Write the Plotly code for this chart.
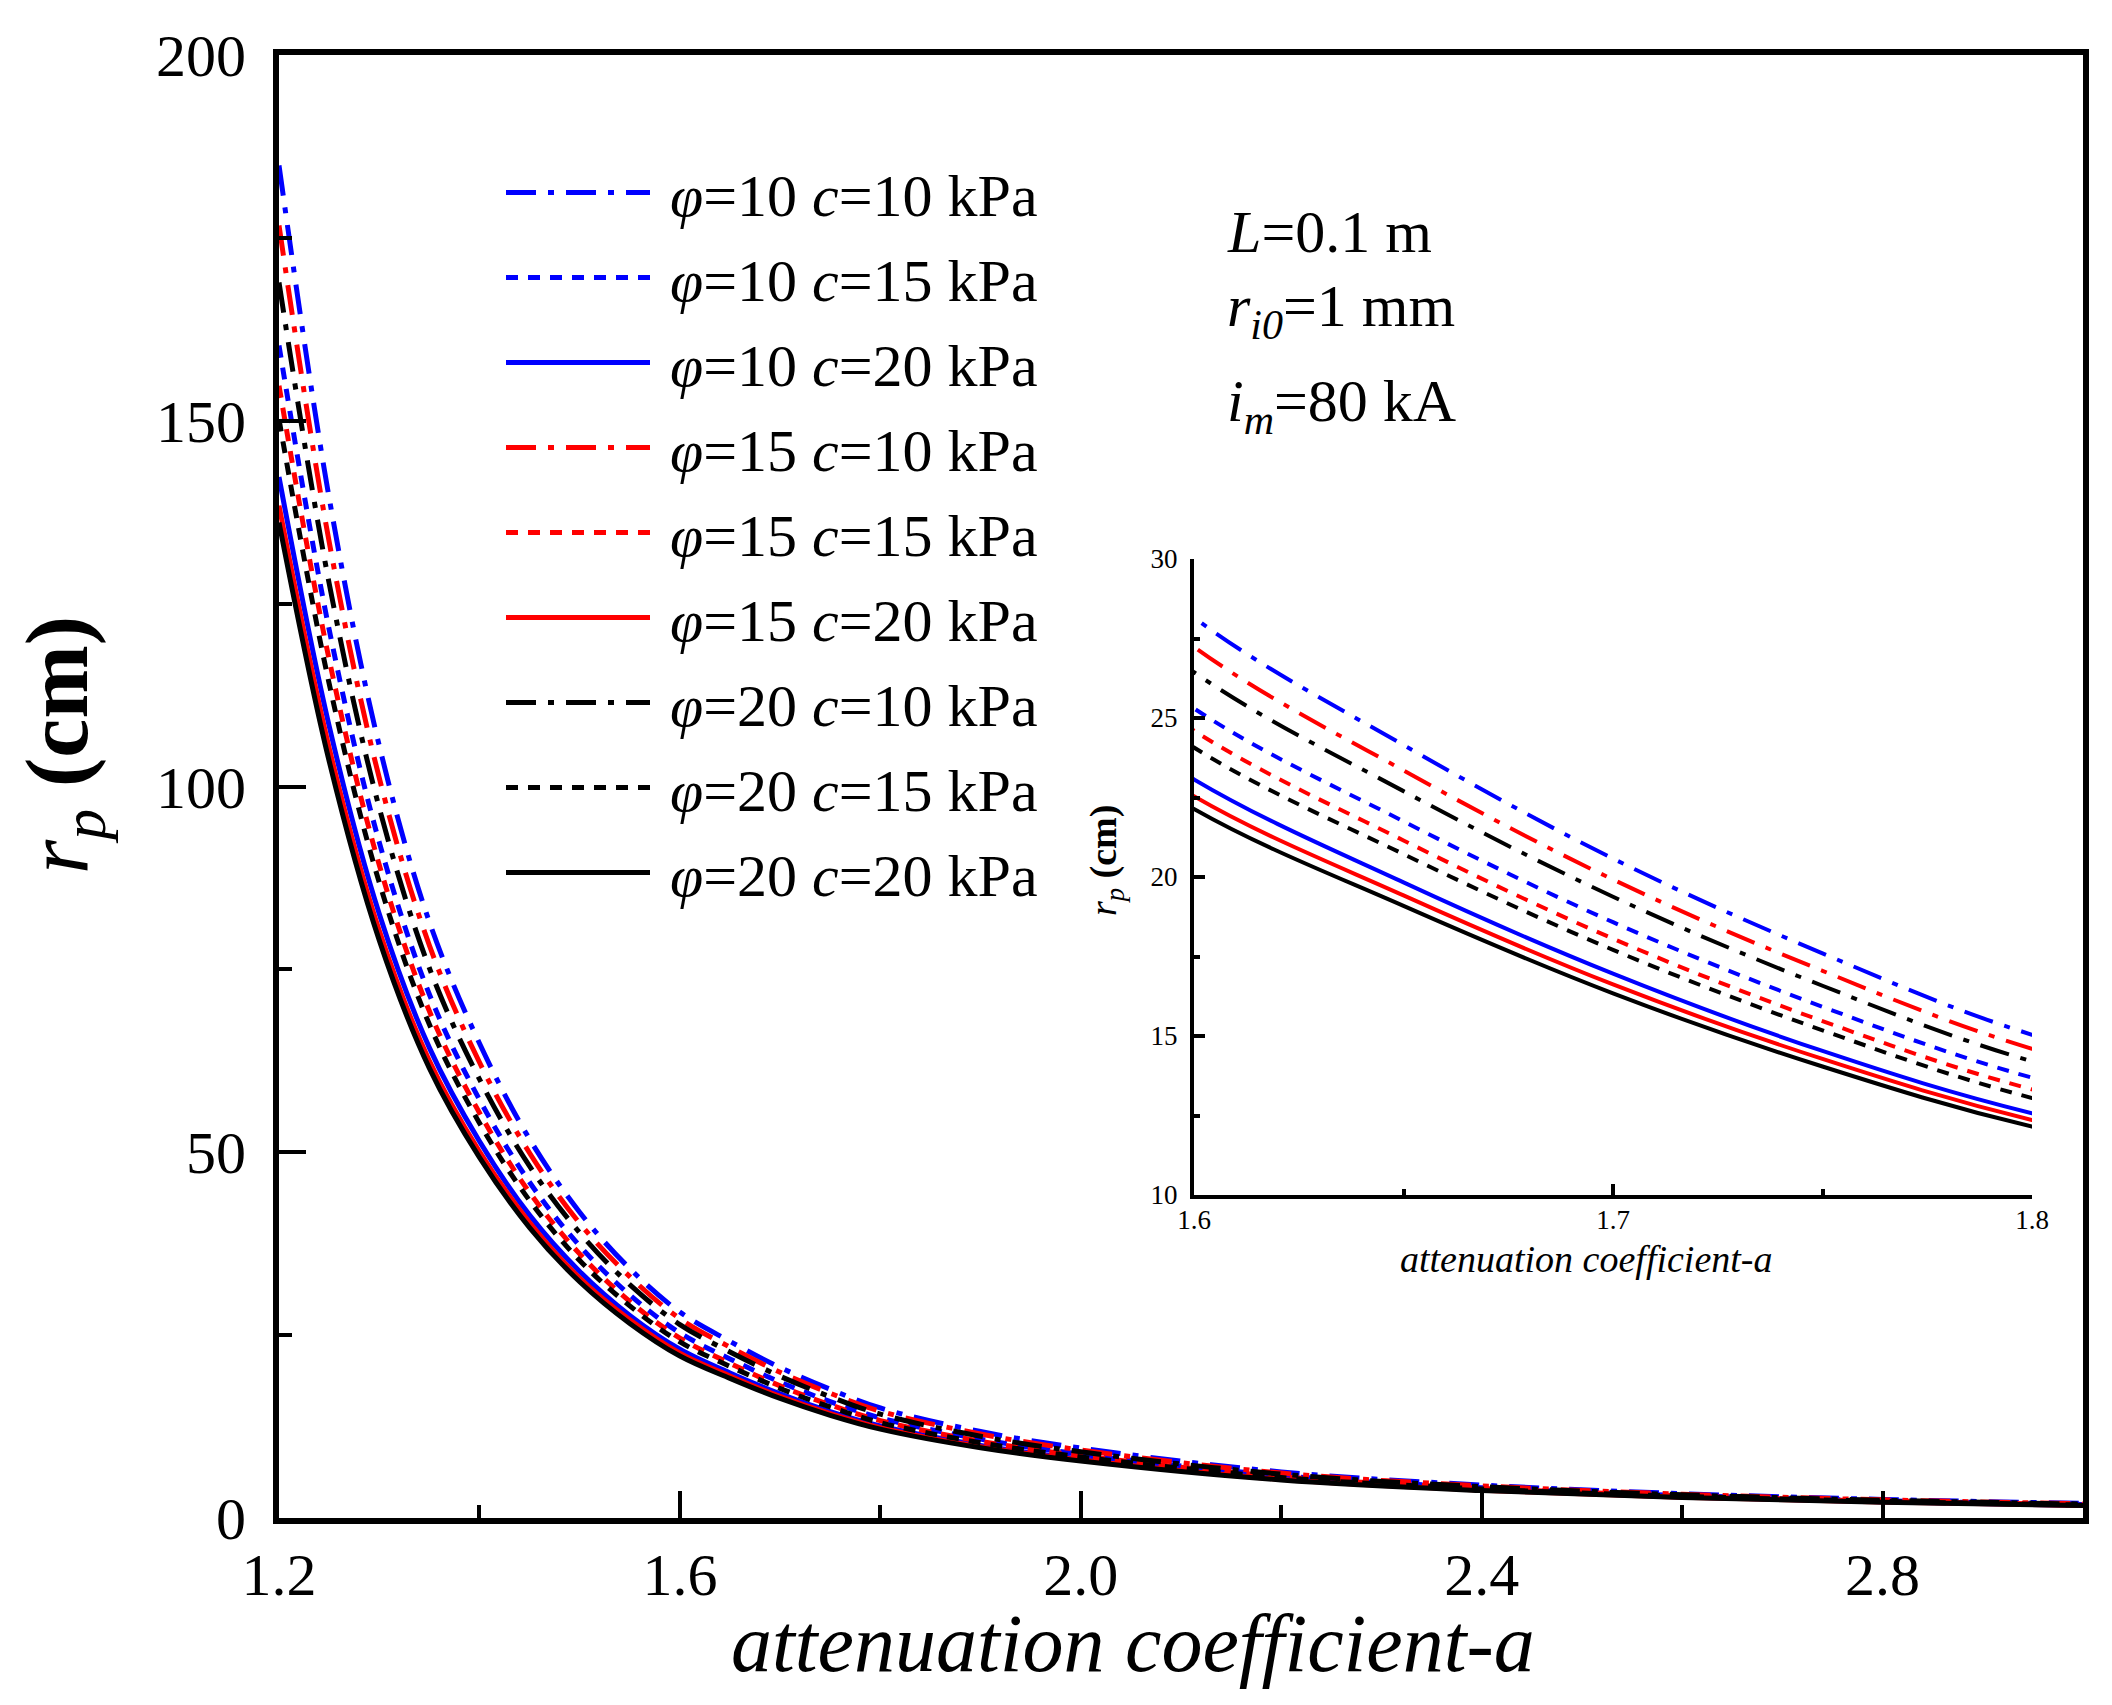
import plotly.graph_objects as go

# ---------------- data ----------------
a_vals = [1.2, 1.25, 1.3, 1.35, 1.4, 1.45, 1.5, 1.55, 1.6, 1.65, 1.7, 1.75, 1.8, 1.9,
          2.0, 2.2, 2.4, 2.6, 2.8, 3.0]

phi10_c10 = [184.9, 139.5, 105.6, 81.5, 64.9, 51.8, 41.8, 34.1, 28.16, 24.15, 20.58, 17.60, 15.04, 11.82,
             9.56, 6.30, 4.50, 3.33, 2.54, 1.99]
phi10_c15 = [160.3, 121.5, 92.4, 71.6, 57.2, 45.9, 37.2, 30.5, 25.30, 21.75, 18.58, 15.92, 13.69, 10.78,
             8.74, 5.79, 4.15, 3.08, 2.36, 1.85]
phi10_c20 = [142.3, 108.3, 82.6, 64.3, 51.5, 41.4, 33.7, 27.7, 23.07, 19.83, 16.96, 14.53, 12.57, 9.93,
             8.06, 5.36, 3.86, 2.88, 2.21, 1.74]
phi15_c10 = [176.7, 133.5, 101.2, 78.3, 62.3, 49.9, 40.3, 33.0, 27.24, 23.35, 19.92, 17.05, 14.60, 11.48,
             9.29, 6.14, 4.39, 3.25, 2.48, 1.94]
phi15_c15 = [154.8, 117.4, 89.3, 69.3, 55.4, 44.5, 36.1, 29.6, 24.60, 21.15, 18.06, 15.47, 13.32, 10.49,
             8.51, 5.65, 4.05, 3.02, 2.31, 1.82]
phi15_c20 = [138.4, 105.3, 80.3, 62.5, 50.1, 40.4, 32.8, 27.1, 22.54, 19.42, 16.62, 14.28, 12.36, 9.75,
             7.92, 5.28, 3.80, 2.84, 2.18, 1.72]
phi20_c10 = [168.9, 127.8, 97.1, 75.2, 60.0, 48.1, 39.0, 31.9, 26.44, 22.70, 19.38, 16.58, 14.20, 11.17,
             9.05, 5.99, 4.28, 3.18, 2.43, 1.91]
phi20_c15 = [150.2, 114.1, 86.9, 67.5, 54.0, 43.4, 35.2, 29.0, 24.07, 20.72, 17.71, 15.18, 13.05, 10.29,
             8.35, 5.54, 3.98, 2.97, 2.27, 1.79]
phi20_c20 = [136.1, 103.5, 79.0, 61.5, 49.3, 39.7, 32.3, 26.6, 22.14, 19.09, 16.34, 14.04, 12.15, 9.60,
             7.80, 5.20, 3.75, 2.80, 2.15, 1.70]

series_names = [
    "<i>φ</i>=10 <i>c</i>=10 kPa", "<i>φ</i>=10 <i>c</i>=15 kPa", "<i>φ</i>=10 <i>c</i>=20 kPa",
    "<i>φ</i>=15 <i>c</i>=10 kPa", "<i>φ</i>=15 <i>c</i>=15 kPa", "<i>φ</i>=15 <i>c</i>=20 kPa",
    "<i>φ</i>=20 <i>c</i>=10 kPa", "<i>φ</i>=20 <i>c</i>=15 kPa", "<i>φ</i>=20 <i>c</i>=20 kPa",
]
series_values = [phi10_c10, phi10_c15, phi10_c20,
                 phi15_c10, phi15_c15, phi15_c20,
                 phi20_c10, phi20_c15, phi20_c20]
series_colors = ["#0000FF"] * 3 + ["#FF0000"] * 3 + ["#000000"] * 3

x_ticks = [1.2, 1.6, 2.0, 2.4, 2.8]
x_tick_labels = ["1.2", "1.6", "2.0", "2.4", "2.8"]
y_ticks = [0, 50, 100, 150, 200]
inset_x_ticks = [1.6, 1.7, 1.8]
inset_y_ticks = [10, 15, 20, 25, 30]

x_title = "<i>attenuation coefficient-a</i>"
y_title = "<i>r</i><sub><i>p</i></sub> <b>(cm)</b>"
notes = ["<i>L</i>=0.1 m", "<i>r</i><sub><i>i0</i></sub>=1 mm", "<i>i</i><sub><i>m</i></sub>=80 kA"]

# ---------------- styles ----------------
DASHDOT = "30px,12px,6px,12px"
SHORTDASH = "12px,10px"
dash_cycle = [DASHDOT, SHORTDASH, "solid"] * 3
FONT = "Liberation Serif"

fig = go.Figure()

for i, (name, vals) in enumerate(zip(series_names, series_values)):
    fig.add_trace(go.Scatter(
        x=a_vals, y=vals, mode="lines", name="\u00a0" + name,
        line=dict(color=series_colors[i], width=5, dash=dash_cycle[i], shape="spline", smoothing=1.0),
        legendgroup=f"g{i}", xaxis="x", yaxis="y",
    ))

for i, (name, vals) in enumerate(zip(series_names, series_values)):
    fig.add_trace(go.Scatter(
        x=a_vals, y=vals, mode="lines", name=name, showlegend=False,
        line=dict(color=series_colors[i], width=4, dash=dash_cycle[i], shape="spline", smoothing=1.0),
        legendgroup=f"g{i}", xaxis="x2", yaxis="y2",
    ))

L, R, T, B = 271, 37, 47, 195
W, H = 2112, 1705
PW, PH = W - L - R, H - T - B


def px_x(xp):
    return (xp - L) / PW


def px_y(yp):
    return (H - B - yp) / PH


fig.update_layout(
    width=W, height=H,
    margin=dict(l=L, r=R, t=T, b=B),
    paper_bgcolor="white", plot_bgcolor="white",
    font=dict(family=FONT, color="black", size=60),
    xaxis=dict(
        range=[1.2, 3.0], tickvals=x_ticks, ticktext=x_tick_labels,
        ticks="inside", ticklen=27, tickwidth=4, tickcolor="black",
        minor=dict(dtick=0.2, ticks="inside", ticklen=13, tickwidth=4, tickcolor="black"),
        showline=True, linewidth=6, linecolor="black", mirror=True,
        showgrid=False, zeroline=False,
        tickfont=dict(family=FONT, size=60), ticklabelstandoff=-1,
    ),
    yaxis=dict(
        range=[0, 200], tickvals=y_ticks,
        ticks="inside", ticklen=27, tickwidth=4, tickcolor="black",
        minor=dict(dtick=25, ticks="inside", ticklen=13, tickwidth=4, tickcolor="black"),
        showline=True, linewidth=6, linecolor="black", mirror=True,
        showgrid=False, zeroline=False,
        tickfont=dict(family=FONT, size=60), ticklabelstandoff=15,
    ),
    xaxis2=dict(
        domain=[px_x(1186), px_x(2024)], anchor="y2",
        range=[1.6, 1.8], tickvals=inset_x_ticks,
        ticks="inside", ticklen=11, tickwidth=4, tickcolor="black",
        minor=dict(dtick=0.05, ticks="inside", ticklen=6, tickwidth=4, tickcolor="black"),
        showline=True, linewidth=4, linecolor="black", mirror=False,
        showgrid=False, zeroline=False,
        tickfont=dict(family=FONT, size=27), ticklabelstandoff=-2,
    ),
    yaxis2=dict(
        domain=[px_y(1187), px_y(551)], anchor="x2",
        range=[10, 30], tickvals=inset_y_ticks,
        ticks="inside", ticklen=11, tickwidth=4, tickcolor="black",
        minor=dict(dtick=2.5, ticks="inside", ticklen=6, tickwidth=4, tickcolor="black"),
        showline=True, linewidth=4, linecolor="black", mirror=False,
        showgrid=False, zeroline=False,
        tickfont=dict(family=FONT, size=27), ticklabelstandoff=7,
    ),
    legend=dict(
        x=px_x(493), y=px_y(139), xanchor="left", yanchor="top",
        bgcolor="rgba(0,0,0,0)", borderwidth=0,
        font=dict(family=FONT, size=60), itemwidth=144,
        traceorder="grouped", tracegroupgap=4,
    ),
    showlegend=True,
)

# axis titles
title_specs = [
    (x_title, 1125, 1635, 0, 82),
    (y_title, 55, 737, -90, 88),
    (x_title, 1578, 1251, 0, 38),
    (y_title, 1098, 853, -90, 38),
]
for text, xp, yp, ang, size in title_specs:
    fig.add_annotation(
        text=text, xref="paper", yref="paper", x=px_x(xp), y=px_y(yp),
        xanchor="center", yanchor="middle", textangle=ang, showarrow=False,
        font=dict(family=FONT, size=size, color="black"),
    )

note_rows = [224, 302, 397]
for text, yc in zip(notes, note_rows):
    fig.add_annotation(
        text=text, xref="paper", yref="paper", x=px_x(1217), y=px_y(yc),
        xanchor="left", yanchor="middle", showarrow=False,
        font=dict(family=FONT, size=60, color="black"),
    )

fig.write_html("out.html")
